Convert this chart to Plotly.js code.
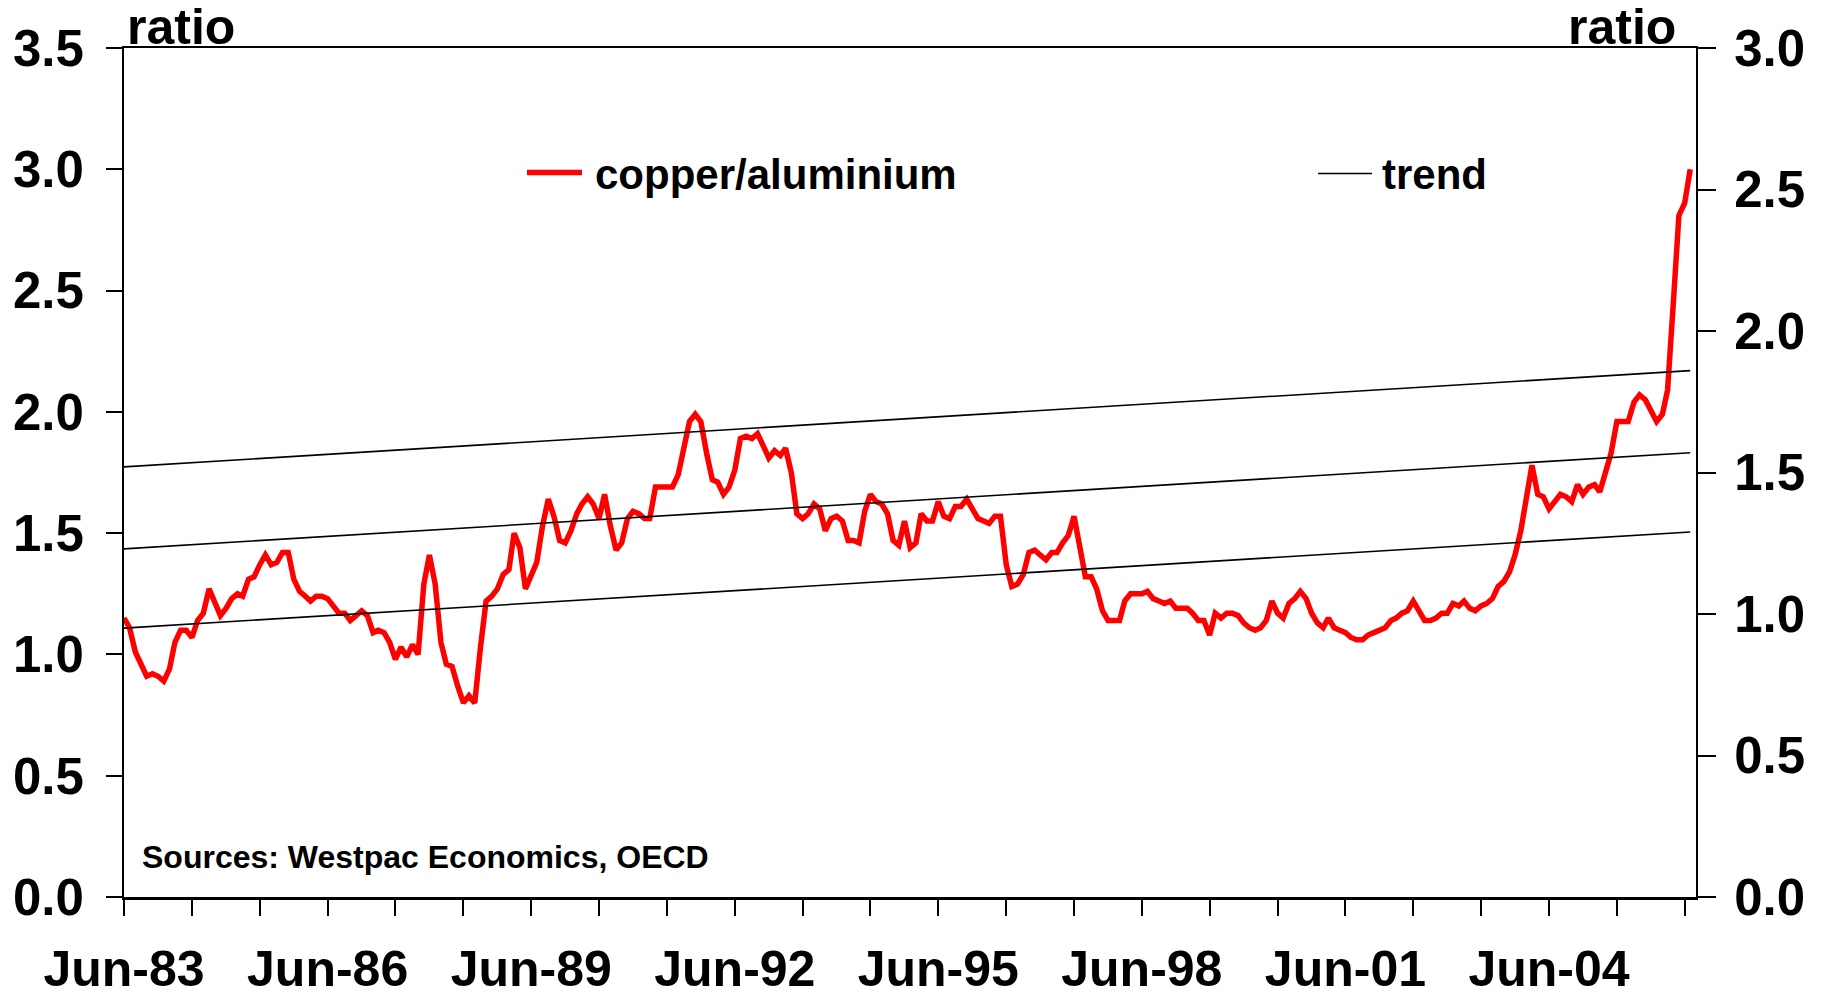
<!DOCTYPE html>
<html>
<head>
<meta charset="utf-8">
<script src="https://cdn.plot.ly/plotly-3.0.1.min.js"></script>
<style>
  html, body { margin: 0; padding: 0; background: #ffffff; }
  #chart { width: 1826px; height: 996px; }
</style>
</head>
<body>
<div id="chart"></div>
<script>
// ---------------- data ----------------
const startMonth = [1983, 6];   // first observation: Jun-83, monthly thereafter

const copperAluminium = [
  1.15,1.11,1.01,0.96,0.91,0.92,0.91,0.89,0.94,1.05,1.10,1.10,
  1.07,1.14,1.17,1.27,1.22,1.16,1.19,1.23,1.25,1.24,1.31,1.32,
  1.37,1.41,1.37,1.38,1.42,1.42,1.31,1.26,1.24,1.22,1.24,1.24,
  1.23,1.20,1.17,1.17,1.14,1.16,1.18,1.16,1.09,1.10,1.09,1.05,
  0.98,1.03,0.99,1.04,1.00,1.29,1.41,1.29,1.05,0.96,0.95,0.87,
  0.80,0.83,0.80,1.03,1.22,1.24,1.27,1.33,1.35,1.50,1.44,1.27,
  1.33,1.38,1.53,1.64,1.57,1.47,1.46,1.51,1.58,1.62,1.65,1.62,
  1.56,1.66,1.53,1.43,1.46,1.56,1.59,1.58,1.56,1.56,1.69,1.69,
  1.69,1.69,1.74,1.84,1.96,1.99,1.96,1.83,1.72,1.71,1.66,1.69,
  1.76,1.89,1.90,1.89,1.91,1.86,1.81,1.84,1.82,1.85,1.75,1.58,
  1.56,1.58,1.62,1.60,1.51,1.56,1.57,1.55,1.47,1.47,1.46,1.59,
  1.66,1.63,1.62,1.58,1.47,1.45,1.55,1.44,1.46,1.58,1.55,1.55,
  1.63,1.57,1.56,1.61,1.61,1.64,1.60,1.56,1.55,1.54,1.57,1.57,
  1.37,1.28,1.29,1.33,1.42,1.43,1.41,1.39,1.42,1.42,1.46,1.49,
  1.57,1.43,1.32,1.32,1.27,1.18,1.14,1.14,1.14,1.22,1.25,1.25,
  1.25,1.26,1.23,1.22,1.21,1.22,1.19,1.19,1.19,1.17,1.14,1.14,
  1.08,1.17,1.15,1.17,1.17,1.16,1.13,1.11,1.10,1.11,1.14,1.22,
  1.17,1.15,1.21,1.23,1.26,1.23,1.17,1.13,1.11,1.15,1.11,1.10,
  1.09,1.07,1.06,1.06,1.08,1.09,1.10,1.11,1.14,1.15,1.17,1.18,
  1.22,1.18,1.14,1.14,1.15,1.17,1.17,1.21,1.20,1.22,1.19,1.18,
  1.20,1.21,1.23,1.28,1.30,1.34,1.41,1.51,1.64,1.78,1.66,1.65,
  1.60,1.63,1.66,1.65,1.63,1.70,1.66,1.69,1.70,1.67,1.75,1.83,
  1.96,1.96,1.96,2.04,2.07,2.05,2.00,1.96,1.99,2.09,2.45,2.81,
  2.86,3.00
];

// trend and +/- bands (right-hand axis), start and end of the sample
const trendDates  = ['1983-06-01', '2006-07-01'];
const trendUpper  = [1.52, 1.86];
const trendCentre = [1.23, 1.57];
const trendLower  = [0.95, 1.29];

const xTickDates = [];
const xTickLabels = ['Jun-83','','','Jun-86','','','Jun-89','','','Jun-92','','','Jun-95','','','Jun-98','','','Jun-01','','','Jun-04','',''];
for (let yr = 1983; yr <= 2006; yr++) xTickDates.push(yr + '-06-01');

const seriesNames = ['copper/aluminium', 'trend'];
const sourceNote = 'Sources: Westpac Economics, OECD';
const axisUnit = 'ratio';

// ---------------- build ----------------
const dates = copperAluminium.map((_, i) => {
  const t = startMonth[1] - 1 + i;
  const y = startMonth[0] + Math.floor(t / 12);
  const m = (t % 12) + 1;
  return y + '-' + String(m).padStart(2, '0') + '-01';
});

const W = 1826, H = 996;
const L = 124, R = 1696, T = 48, B = 897;
const px = x => (x - L) / (R - L);
const py = y => (B - y) / (B - T);

const FONT = 'Liberation Sans, Arial, Helvetica, sans-serif';

const traces = [
  { x: trendDates, y: trendUpper,  yaxis: 'y2', mode: 'lines', line: {color: '#000000', width: 1.6}, showlegend: false, hoverinfo: 'skip' },
  { x: trendDates, y: trendCentre, yaxis: 'y2', mode: 'lines', line: {color: '#000000', width: 1.6}, showlegend: false, name: seriesNames[1] },
  { x: trendDates, y: trendLower,  yaxis: 'y2', mode: 'lines', line: {color: '#000000', width: 1.6}, showlegend: false, hoverinfo: 'skip' },
  { x: dates, y: copperAluminium, mode: 'lines', name: seriesNames[0],
    line: {color: '#ff0000', width: 5.5, shape: 'linear'}, showlegend: false }
];

const tickFont = {family: FONT, size: 51, color: '#000000', weight: 'bold'};
const xTickFont = {family: FONT, size: 50, color: '#000000', weight: 'bold'};

const layout = {
  width: W, height: H,
  paper_bgcolor: '#ffffff', plot_bgcolor: '#ffffff',
  margin: {l: L, r: W - R, t: T, b: H - B, pad: 0},
  showlegend: false,
  xaxis: {
    type: 'date',
    range: ['1983-06-01', '2006-08-01'],
    tickmode: 'array', tickvals: xTickDates, ticktext: xTickLabels,
    ticks: 'outside', ticklen: 16, tickwidth: 2, tickcolor: '#000000',
    showline: true, linewidth: 2.5, linecolor: '#000000', mirror: true,
    showgrid: false, zeroline: false,
    tickfont: xTickFont, ticklabelstandoff: 10
  },
  yaxis: {
    range: [0, 3.5], dtick: 0.5, tick0: 0, tickformat: '.1f',
    ticks: 'outside', ticklen: 16, tickwidth: 2, tickcolor: '#000000',
    showline: true, linewidth: 2, linecolor: '#000000',
    showgrid: false, zeroline: false,
    tickfont: tickFont, ticklabelstandoff: 12
  },
  yaxis2: {
    overlaying: 'y', side: 'right',
    range: [0, 3.0], dtick: 0.5, tick0: 0, tickformat: '.1f',
    ticks: 'outside', ticklen: 18, tickwidth: 2, tickcolor: '#000000',
    showline: true, linewidth: 2, linecolor: '#000000',
    showgrid: false, zeroline: false,
    tickfont: tickFont, ticklabelstandoff: 8
  },
  shapes: [
    {type: 'line', xref: 'paper', yref: 'paper', x0: px(527), x1: px(582), y0: py(172.5), y1: py(172.5),
     line: {color: '#ff0000', width: 5.5}},
    {type: 'line', xref: 'paper', yref: 'paper', x0: px(1318), x1: px(1372), y0: py(173.5), y1: py(173.5),
     line: {color: '#000000', width: 1.6}}
  ],
  annotations: [
    {text: axisUnit, xref: 'paper', yref: 'paper', x: px(125), y: py(27), xanchor: 'left', yanchor: 'middle',
     showarrow: false, font: {family: FONT, size: 50, color: '#000000', weight: 'bold'}},
    {text: axisUnit, xref: 'paper', yref: 'paper', x: px(1678), y: py(27), xanchor: 'right', yanchor: 'middle',
     showarrow: false, font: {family: FONT, size: 50, color: '#000000', weight: 'bold'}},
    {text: seriesNames[0], xref: 'paper', yref: 'paper', x: px(593), y: py(175), xanchor: 'left', yanchor: 'middle',
     showarrow: false, font: {family: FONT, size: 42, color: '#000000', weight: 'bold'}},
    {text: seriesNames[1], xref: 'paper', yref: 'paper', x: px(1380), y: py(175), xanchor: 'left', yanchor: 'middle',
     showarrow: false, font: {family: FONT, size: 42, color: '#000000', weight: 'bold'}},
    {text: sourceNote, xref: 'paper', yref: 'paper', x: px(140), y: py(857), xanchor: 'left', yanchor: 'middle',
     showarrow: false, font: {family: FONT, size: 32, color: '#000000', weight: 'bold'}}
  ]
};

Plotly.newPlot('chart', traces, layout, {staticPlot: true, displayModeBar: false});
</script>
</body>
</html>
